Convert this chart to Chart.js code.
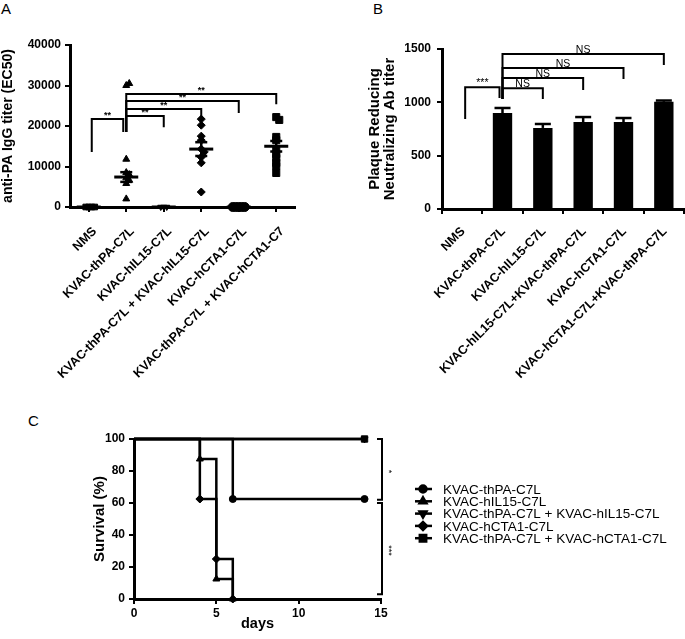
<!DOCTYPE html>
<html>
<head>
<meta charset="utf-8">
<script src="https://cdn.jsdelivr.net/npm/chart.js@4.4.0/dist/chart.umd.min.js"></script>
<style>
  body { margin: 0; background: #fff; font-family: "Liberation Sans", Arial, sans-serif; }
  #wrap { position: relative; width: 685px; height: 639px; overflow: hidden; }
  canvas { position: absolute; }
  .tag { position: absolute; font-size: 15px; line-height: 15px; color: #000; }
</style>
</head>
<body>
<div id="wrap">
  <div class="tag" style="left:1px;top:1px">A</div>
  <div class="tag" style="left:373px;top:1px">B</div>
  <div class="tag" style="left:28px;top:413px">C</div>
  <canvas id="chartA" width="340" height="400" style="left:0;top:0"></canvas>
  <canvas id="chartB" width="345" height="400" style="left:340px;top:0"></canvas>
  <canvas id="chartC" width="685" height="239" style="left:0;top:400px"></canvas>
</div>
<script>
const FONT = '"Liberation Sans", Arial, sans-serif';

// ---- panel A: anti-PA IgG titer ----
const groupsA = ['NMS', 'KVAC-thPA-C7L', 'KVAC-hIL15-C7L', 'KVAC-thPA-C7L + KVAC-hIL15-C7L', 'KVAC-hCTA1-C7L', 'KVAC-thPA-C7L + KVAC-hCTA1-C7'];
const nmsA = [0, 0, 0, 0];
const thpaA = [30000, 30500, 11800, 8500, 8000, 7200, 6600, 5800, 2000];
const il15A = [0, 0, 0];
const thpaIl15A = [21700, 20200, 17500, 16500, 14300, 13600, 12300, 10900, 3700];
const ctaA = [0, 0, 0, 0, 0];
const thpaCtaA = [22200, 21500, 17300, 16500, 14100, 13100, 12100, 10900, 10100, 8400];
const meanA = [0, 7400, 0, 14300, 0, 15000];
const semA = [0, 1200, 0, 1700, 0, 1300];
const ticksA = [0, 10000, 20000, 30000, 40000];
// brackets: from group, to group, top, leg ends, label
const bracketsA = [
  { from: 0, to: 1, top: 21700, left: 13600, right: 18500, label: '**' },
  { from: 1, to: 2, top: 22500, left: 18500, right: 19700, label: '**' },
  { from: 1, to: 3, top: 24200, left: 18500, right: 22000, label: '**' },
  { from: 1, to: 4, top: 26200, left: 18500, right: 23200, label: '**' },
  { from: 1, to: 5, top: 27900, left: 18500, right: 25400, label: '**' }
];

// ---- panel B: plaque reducing neutralizing Ab titer ----
const groupsB = ['NMS', 'KVAC-thPA-C7L', 'KVAC-hIL15-C7L', 'KVAC-hIL15-C7L+KVAC-thPA-C7L', 'KVAC-hCTA1-C7L', 'KVAC-hCTA1-C7L+KVAC-thPA-C7L'];
const titerB = [0, 900, 760, 815, 815, 1005];
const semB = [0, 47, 37, 47, 38, 12];
const bracketsB = [
  { from: 0, to: 1, top: 1141, left: 844, right: 1041, label: '***' },
  { from: 1, to: 2, top: 1132, left: 1031, right: 1031, label: 'NS' },
  { from: 1, to: 3, top: 1228, left: 1031, right: 1116, label: 'NS' },
  { from: 1, to: 4, top: 1322, left: 1031, right: 1219, label: 'NS' },
  { from: 1, to: 5, top: 1453, left: 1031, right: 1350, label: 'NS' }
];

// ---- panel C: survival ----
const seriesC = ['KVAC-thPA-C7L', 'KVAC-hIL15-C7L', 'KVAC-thPA-C7L + KVAC-hIL15-C7L', 'KVAC-hCTA1-C7L', 'KVAC-thPA-C7L + KVAC-hCTA1-C7L'];
const daysThpa = [0, 6, 14];
const survThpa = [100, 62.5, 62.5];
const daysIl15 = [0, 4, 5, 6];
const survIl15 = [100, 87.5, 12.5, 0];
const daysThpaIl15 = [0, 14];
const survThpaIl15 = [100, 100];
const daysCta = [0, 4, 5, 6];
const survCta = [100, 62.5, 25, 0];
const daysThpaCta = [0, 14];
const survThpaCta = [100, 100];
const statsC = [
  { top: 100, bottom: 62, label: '*' },
  { top: 60, bottom: 3, label: '***' }
];

const stylesC = [
  { pointStyle: 'circle', rotation: 0, radius: 3.5 },
  { pointStyle: 'triangle', rotation: 0, radius: 4 },
  { pointStyle: 'triangle', rotation: 180, radius: 4 },
  { pointStyle: 'rectRot', rotation: 0, radius: 4 },
  { pointStyle: 'rect', rotation: 0, radius: 4.5 }
];

function tickFont(size) { return { family: FONT, size: size, weight: 'bold' }; }
const plain = v => String(v);

function line(ctx, x1, y1, x2, y2) {
  ctx.beginPath(); ctx.moveTo(x1, y1); ctx.lineTo(x2, y2); ctx.stroke();
}

function drawBrackets(chart, list, font) {
  const { ctx, scales: { x, y } } = chart;
  ctx.save();
  ctx.strokeStyle = '#000'; ctx.fillStyle = '#000'; ctx.lineWidth = 2;
  ctx.font = font; ctx.textAlign = 'center'; ctx.textBaseline = 'bottom';
  list.forEach(b => {
    const inset = b.from === 0 ? 3 : 0;
    const x1 = x.getPixelForValue(b.from) + inset;
    const x2 = x.getPixelForValue(b.to) - inset;
    const yt = y.getPixelForValue(b.top);
    ctx.beginPath();
    ctx.moveTo(x1, y.getPixelForValue(b.left));
    ctx.lineTo(x1, yt);
    ctx.lineTo(x2, yt);
    ctx.lineTo(x2, y.getPixelForValue(b.right));
    ctx.stroke();
    ctx.fillText(b.label, (x1 + x2) / 2, yt + 1);
  });
  ctx.restore();
}

// spread points that sit on top of each other, like a dot plot
const dodge = {
  id: 'dodge',
  afterDatasetsUpdate(chart) {
    chart.data.datasets.forEach((ds, i) => {
      const pts = chart.getDatasetMeta(i).data;
      const placed = [];
      pts.forEach(p => {
        const cx = p.x;
        for (let s = 0; s < 40; s++) {
          const off = (s % 2 ? 1 : -1) * Math.ceil(s / 2) * 3;
          const nx = cx + off;
          if (!placed.some(q => Math.hypot(q.x - nx, q.y - p.y) < 3)) {
            p.x = nx; placed.push({ x: nx, y: p.y }); break;
          }
        }
      });
    });
  }
};

const meanSem = {
  id: 'meanSem',
  afterDatasetsDraw(chart) {
    const { ctx, scales: { x, y } } = chart;
    ctx.save();
    ctx.strokeStyle = '#000';
    meanA.forEach((m, i) => {
      const cx = x.getPixelForValue(i);
      const cy = y.getPixelForValue(m);
      ctx.lineWidth = 3;
      line(ctx, cx - 12, cy, cx + 12, cy);
      if (semA[i] > 0) {
        const y1 = y.getPixelForValue(m + semA[i]);
        const y2 = y.getPixelForValue(m - semA[i]);
        ctx.lineWidth = 2.5;
        line(ctx, cx, y1, cx, y2);
        line(ctx, cx - 6, y1, cx + 6, y1);
        line(ctx, cx - 6, y2, cx + 6, y2);
      }
    });
    ctx.restore();
    drawBrackets(chart, bracketsA, 'bold 9px ' + FONT);
  }
};

function dotSet(values, idx, style, radius, rotation) {
  return {
    data: values.map(v => ({ x: groupsA[idx], y: v })),
    showLine: false,
    pointStyle: style,
    pointRadius: radius,
    pointRotation: rotation || 0,
    pointBackgroundColor: '#000',
    pointBorderColor: '#000',
    pointBorderWidth: 1,
    clip: false
  };
}

new Chart(document.getElementById('chartA'), {
  type: 'line',
  data: {
    labels: groupsA,
    datasets: [
      dotSet(nmsA, 0, 'rect', 4),
      dotSet(thpaA, 1, 'triangle', 4),
      dotSet(il15A, 2, 'triangle', 3.5, 180),
      dotSet(thpaIl15A, 3, 'rectRot', 4),
      dotSet(ctaA, 4, 'circle', 4.5),
      dotSet(thpaCtaA, 5, 'rect', 5)
    ]
  },
  options: {
    responsive: false,
    animation: false,
    events: [],
    layout: { padding: { left: 0, top: 45, right: 45, bottom: 0 } },
    plugins: { legend: { display: false }, tooltip: { enabled: false } },
    scales: {
      x: {
        type: 'category',
        offset: true,
        border: { width: 3, color: '#000' },
        grid: { drawOnChartArea: false, color: '#000', lineWidth: 2, tickLength: 5 },
        ticks: { color: '#000', font: tickFont(12.5), minRotation: 45, maxRotation: 45, autoSkip: false, padding: 12, labelOffset: 6 },
        afterFit: s => { s.height = 193; }
      },
      y: {
        min: 0, max: 40000,
        afterBuildTicks: s => { s.ticks = ticksA.map(v => ({ value: v })); },
        border: { width: 3, color: '#000' },
        grid: { drawOnChartArea: false, color: '#000', lineWidth: 2, tickLength: 5 },
        ticks: { color: '#000', font: tickFont(12), padding: 4, callback: plain },
        title: { display: true, text: 'anti-PA IgG titer (EC50)', color: '#000', font: tickFont(14), padding: { top: 0, bottom: 2 } },
        afterFit: s => { s.width = 70; }
      }
    }
  },
  plugins: [dodge, meanSem]
});

const errorB = {
  id: 'errorB',
  afterDatasetsDraw(chart) {
    const { ctx, scales: { x, y } } = chart;
    ctx.save();
    ctx.strokeStyle = '#000'; ctx.lineWidth = 2.5;
    titerB.forEach((v, i) => {
      if (!semB[i]) return;
      const cx = x.getPixelForValue(i);
      const y0 = y.getPixelForValue(v);
      const y1 = y.getPixelForValue(v + semB[i]);
      line(ctx, cx, y0, cx, y1);
      line(ctx, cx - 8, y1, cx + 8, y1);
    });
    ctx.restore();
    drawBrackets(chart, bracketsB, '10.5px ' + FONT);
  }
};

new Chart(document.getElementById('chartB'), {
  type: 'bar',
  data: {
    labels: groupsB,
    datasets: [{
      data: titerB,
      backgroundColor: '#000',
      borderWidth: 0,
      barPercentage: 0.48,
      categoryPercentage: 1
    }]
  },
  options: {
    responsive: false,
    animation: false,
    events: [],
    layout: { padding: { left: 28, top: 49, right: 1, bottom: 0 } },
    plugins: { legend: { display: false }, tooltip: { enabled: false } },
    scales: {
      x: {
        border: { width: 3, color: '#000' },
        grid: { drawOnChartArea: false, color: '#000', lineWidth: 2, tickLength: 5 },
        ticks: { color: '#000', font: tickFont(12.5), minRotation: 45, maxRotation: 45, autoSkip: false, padding: 10, labelOffset: 1 },
        afterFit: s => { s.height = 191; }
      },
      y: {
        min: 0, max: 1500,
        ticks: { stepSize: 500, color: '#000', font: tickFont(12), padding: 6, callback: plain },
        border: { width: 3, color: '#000' },
        grid: { drawOnChartArea: false, color: '#000', lineWidth: 2, tickLength: 5 },
        title: { display: true, text: ['Plaque Reducing', 'Neutralizing Ab titer'], color: '#000', font: Object.assign(tickFont(15), { lineHeight: 0.95 }), padding: { top: 0, bottom: 4 } },
        afterFit: s => { s.width = 74; }
      }
    }
  },
  plugins: [errorB]
});

const extrasC = {
  id: 'extrasC',
  afterDraw(chart) {
    const { ctx, scales: { x, y } } = chart;
    ctx.save();
    ctx.strokeStyle = '#000'; ctx.fillStyle = '#000'; ctx.lineWidth = 2;
    // significance brackets on the right
    const bx = x.getPixelForValue(15) + 1;
    statsC.forEach(s => {
      const y1 = y.getPixelForValue(s.top), y2 = y.getPixelForValue(s.bottom);
      ctx.beginPath();
      ctx.moveTo(bx - 5, y1); ctx.lineTo(bx, y1); ctx.lineTo(bx, y2); ctx.lineTo(bx - 5, y2);
      ctx.stroke();
      ctx.save();
      ctx.font = '9px ' + FONT; ctx.textAlign = 'center'; ctx.textBaseline = 'middle';
      ctx.translate(bx + 6, (y1 + y2) / 2 + 2);
      ctx.rotate(Math.PI / 2);
      ctx.fillText(s.label, 0, 0);
      ctx.restore();
    });
    // legend
    const lx = 423, ly = 89, step = 12.3;
    ctx.font = '13.5px ' + FONT; ctx.textAlign = 'left'; ctx.textBaseline = 'middle';
    seriesC.forEach((name, i) => {
      const yy = ly + i * step;
      ctx.lineWidth = 2.5;
      line(ctx, lx - 8, yy, lx + 9, yy);
      Chart.helpers.drawPoint(ctx, { pointStyle: stylesC[i].pointStyle, rotation: stylesC[i].rotation, radius: stylesC[i].radius, borderWidth: 1 }, lx, yy);
      ctx.fill();
      ctx.fillText(name, 443, yy + 1);
    });
    ctx.restore();
  }
};

function survSet(days, surv, i) {
  return {
    label: seriesC[i],
    data: days.map((d, k) => ({ x: d, y: surv[k] })),
    stepped: true,
    borderColor: '#000',
    borderWidth: 2.5,
    pointStyle: stylesC[i].pointStyle,
    pointRotation: stylesC[i].rotation,
    pointRadius: c => (c.dataIndex === 0 ? 0 : stylesC[i].radius),
    pointBackgroundColor: '#000',
    pointBorderColor: '#000',
    pointBorderWidth: 1,
    clip: false
  };
}

new Chart(document.getElementById('chartC'), {
  type: 'line',
  data: {
    datasets: [
      survSet(daysThpa, survThpa, 0),
      survSet(daysIl15, survIl15, 1),
      survSet(daysThpaIl15, survThpaIl15, 2),
      survSet(daysCta, survCta, 3),
      survSet(daysThpaCta, survThpaCta, 4)
    ]
  },
  options: {
    responsive: false,
    animation: false,
    events: [],
    layout: { padding: { left: 91, top: 39, right: 304, bottom: 0 } },
    plugins: { legend: { display: false }, tooltip: { enabled: false } },
    scales: {
      x: {
        type: 'linear', min: 0, max: 15,
        ticks: { stepSize: 5, color: '#000', font: tickFont(12), padding: 2 },
        border: { width: 3, color: '#000' },
        grid: { drawOnChartArea: false, color: '#000', lineWidth: 2, tickLength: 5 },
        title: { display: true, text: 'days', color: '#000', font: tickFont(14.5), padding: { top: 0, bottom: 6 } },
        afterFit: s => { s.height = 40; }
      },
      y: {
        min: 0, max: 100,
        ticks: { stepSize: 20, color: '#000', font: tickFont(12), padding: 4 },
        border: { width: 3, color: '#000' },
        grid: { drawOnChartArea: false, color: '#000', lineWidth: 2, tickLength: 5 },
        title: { display: true, text: 'Survival (%)', color: '#000', font: tickFont(15), padding: { top: 0, bottom: 2 } },
        afterFit: s => { s.width = 43; }
      }
    }
  },
  plugins: [extrasC]
});
</script>
</body>
</html>
